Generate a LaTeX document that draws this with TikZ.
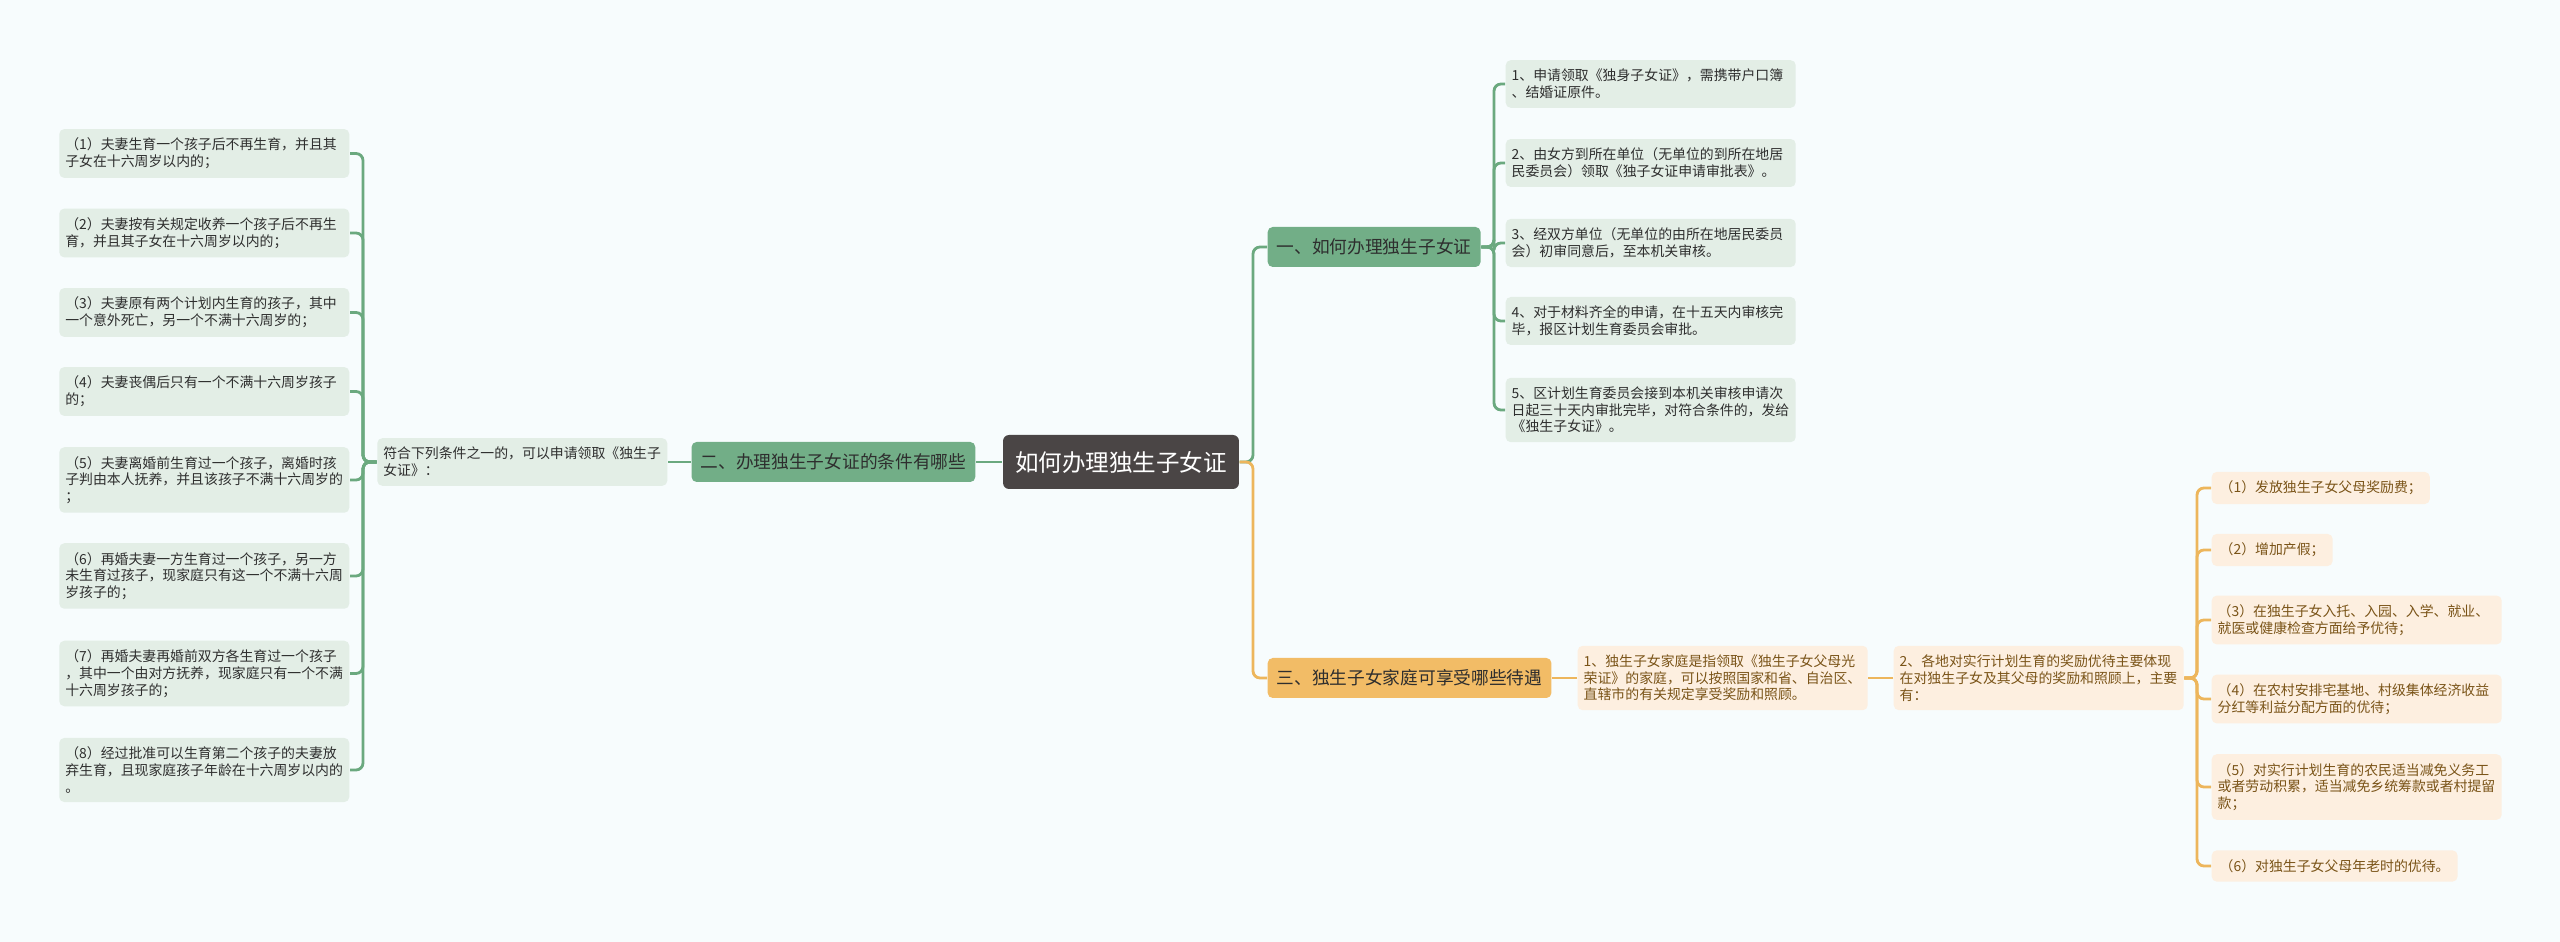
\documentclass[tikz,border=0pt]{standalone}
\usepackage{fontspec}
\setmainfont{Noto Sans CJK SC}
\usetikzlibrary{positioning}
\definecolor{mm-bg}{HTML}{F7FCFD}
\definecolor{mm-root}{HTML}{4A4545}
\definecolor{mm-green}{HTML}{72AE87}
\definecolor{mm-green-light}{HTML}{E3EEE6}
\definecolor{mm-green-line}{HTML}{6BA97F}
\definecolor{mm-orange}{HTML}{F2BC66}
\definecolor{mm-orange-light}{HTML}{FDEFE0}
\definecolor{mm-orange-line}{HTML}{EDB65C}
\definecolor{mm-text}{HTML}{2E2E2E}
\definecolor{mm-brown}{HTML}{7A5418}
\tikzset{
  leaf-font/.style={font=\fontsize{3.95}{4.75}\selectfont},
  root-topic/.style={fill=mm-root, text=white, rounded corners=0.06cm,
    inner xsep=0.12cm, minimum height=0.54cm, font=\fontsize{6.7}{8}\selectfont},
  branch/.style={fill=#1, text=mm-text, rounded corners=0.05cm,
    inner xsep=0.09cm, minimum height=0.40cm, font=\fontsize{5.04}{6}\selectfont},
  leaf/.style={fill=#1, rounded corners=0.05cm, inner xsep=0.06cm,
    inner ysep=0.09cm, align=left, leaf-font},
  green-leaf/.style={leaf=mm-green-light, text=mm-text, text width=2.78cm},
  orange-leaf/.style={leaf=mm-orange-light, text=mm-brown, text width=2.78cm},
  orange-short/.style={leaf=mm-orange-light, text=mm-brown, inner xsep=0.08cm},
  green-link/.style={draw=mm-green-line, line width=0.8pt, rounded corners=0.07cm},
  orange-link/.style={draw=mm-orange-line, line width=0.8pt, rounded corners=0.07cm},
  elbow-left/.style={to path={(\tikztostart.west) -- ++(-#1,0) |- (\tikztotarget.east)}},
  elbow-right/.style={to path={(\tikztostart.east) -- ++(#1,0) |- (\tikztotarget.west)}},
}
\begin{document}
\begin{tikzpicture}
\useasboundingbox (0,0) rectangle (25.6,-9.42);
\fill[mm-bg] (0,0) rectangle (25.6,-9.42);

\node[root-topic] at (11.21,-4.62) (root) {如何办理独生子女证};

% 二
\node[branch=mm-green, anchor=east] at (9.76,-4.62) (cond) {二、办理独生子女证的条件有哪些}
  edge [green-link] (root);
\node[green-leaf, anchor=east] at (6.68,-4.62) (cond-intro) {符合下列条件之一的，可以申请领取《独生子\\女证》：}
  edge [green-link] (cond);
\node[green-leaf, anchor=east] at (3.50,-1.535) (cond-1) {（1）夫妻生育一个孩子后不再生育，并且其\\子女在十六周岁以内的；}
  edge [green-link, elbow-right=0.13] (cond-intro);
\node[green-leaf, anchor=east] at (3.50,-2.33) (cond-2) {（2）夫妻按有关规定收养一个孩子后不再生\\育，并且其子女在十六周岁以内的；}
  edge [green-link, elbow-right=0.13] (cond-intro);
\node[green-leaf, anchor=east] at (3.50,-3.125) (cond-3) {（3）夫妻原有两个计划内生育的孩子，其中\\一个意外死亡，另一个不满十六周岁的；}
  edge [green-link, elbow-right=0.13] (cond-intro);
\node[green-leaf, anchor=east] at (3.50,-3.915) (cond-4) {（4）夫妻丧偶后只有一个不满十六周岁孩子\\的；}
  edge [green-link, elbow-right=0.13] (cond-intro);
\node[green-leaf, anchor=east] at (3.50,-4.80) (cond-5) {（5）夫妻离婚前生育过一个孩子，离婚时孩\\子判由本人抚养，并且该孩子不满十六周岁的\\；}
  edge [green-link, elbow-right=0.13] (cond-intro);
\node[green-leaf, anchor=east] at (3.50,-5.76) (cond-6) {（6）再婚夫妻一方生育过一个孩子，另一方\\未生育过孩子，现家庭只有这一个不满十六周\\岁孩子的；}
  edge [green-link, elbow-right=0.13] (cond-intro);
\node[green-leaf, anchor=east] at (3.50,-6.735) (cond-7) {（7）再婚夫妻再婚前双方各生育过一个孩子\\，其中一个由对方抚养，现家庭只有一个不满\\十六周岁孩子的；}
  edge [green-link, elbow-right=0.13] (cond-intro);
\node[green-leaf, anchor=east] at (3.50,-7.70) (cond-8) {（8）经过批准可以生育第二个孩子的夫妻放\\弃生育，且现家庭孩子年龄在十六周岁以内的\\。}
  edge [green-link, elbow-right=0.13] (cond-intro);

% 一
\node[branch=mm-green, anchor=west] at (12.67,-2.47) (apply) {一、如何办理独生子女证}
  edge [green-link, elbow-left=0.14] (root);
\node[green-leaf, anchor=west] at (15.05,-0.84) (apply-1) {1、申请领取《独身子女证》，需携带户口簿\\、结婚证原件。}
  edge [green-link, elbow-left=0.11] (apply);
\node[green-leaf, anchor=west] at (15.05,-1.63) (apply-2) {2、由女方到所在单位（无单位的到所在地居\\民委员会）领取《独子女证申请审批表》。}
  edge [green-link, elbow-left=0.11] (apply);
\node[green-leaf, anchor=west] at (15.05,-2.43) (apply-3) {3、经双方单位（无单位的由所在地居民委员\\会）初审同意后，至本机关审核。}
  edge [green-link, elbow-left=0.11] (apply);
\node[green-leaf, anchor=west] at (15.05,-3.21) (apply-4) {4、对于材料齐全的申请，在十五天内审核完\\毕，报区计划生育委员会审批。}
  edge [green-link, elbow-left=0.11] (apply);
\node[green-leaf, anchor=west] at (15.05,-4.10) (apply-5) {5、区计划生育委员会接到本机关审核申请次\\日起三十天内审批完毕，对符合条件的，发给\\《独生子女证》。}
  edge [green-link, elbow-left=0.11] (apply);

% 三
\node[branch=mm-orange, anchor=west] at (12.67,-6.78) (benefit) {三、独生子女家庭可享受哪些待遇}
  edge [orange-link, elbow-left=0.14] (root);
\node[orange-leaf, anchor=west] at (15.77,-6.78) (benefit-1) {1、独生子女家庭是指领取《独生子女父母光\\荣证》的家庭，可以按照国家和省、自治区、\\直辖市的有关规定享受奖励和照顾。}
  edge [orange-link] (benefit);
\node[orange-leaf, anchor=west] at (18.93,-6.78) (benefit-2) {2、各地对实行计划生育的奖励优待主要体现\\在对独生子女及其父母的奖励和照顾上，主要\\有：}
  edge [orange-link] (benefit-1);
\node[orange-short, anchor=west] at (22.11,-4.88) (reward-1) {（1）发放独生子女父母奖励费；}
  edge [orange-link, elbow-left=0.14] (benefit-2);
\node[orange-short, anchor=west] at (22.11,-5.50) (reward-2) {（2）增加产假；}
  edge [orange-link, elbow-left=0.14] (benefit-2);
\node[orange-leaf, anchor=west] at (22.11,-6.20) (reward-3) {（3）在独生子女入托、入园、入学、就业、\\就医或健康检查方面给予优待；}
  edge [orange-link, elbow-left=0.14] (benefit-2);
\node[orange-leaf, anchor=west] at (22.11,-6.99) (reward-4) {（4）在农村安排宅基地、村级集体经济收益\\分红等利益分配方面的优待；}
  edge [orange-link, elbow-left=0.14] (benefit-2);
\node[orange-leaf, anchor=west] at (22.11,-7.87) (reward-5) {（5）对实行计划生育的农民适当减免义务工\\或者劳动积累，适当减免乡统筹款或者村提留\\款；}
  edge [orange-link, elbow-left=0.14] (benefit-2);
\node[orange-short, anchor=west] at (22.11,-8.66) (reward-6) {（6）对独生子女父母年老时的优待。}
  edge [orange-link, elbow-left=0.14] (benefit-2);
\end{tikzpicture}
\end{document}
